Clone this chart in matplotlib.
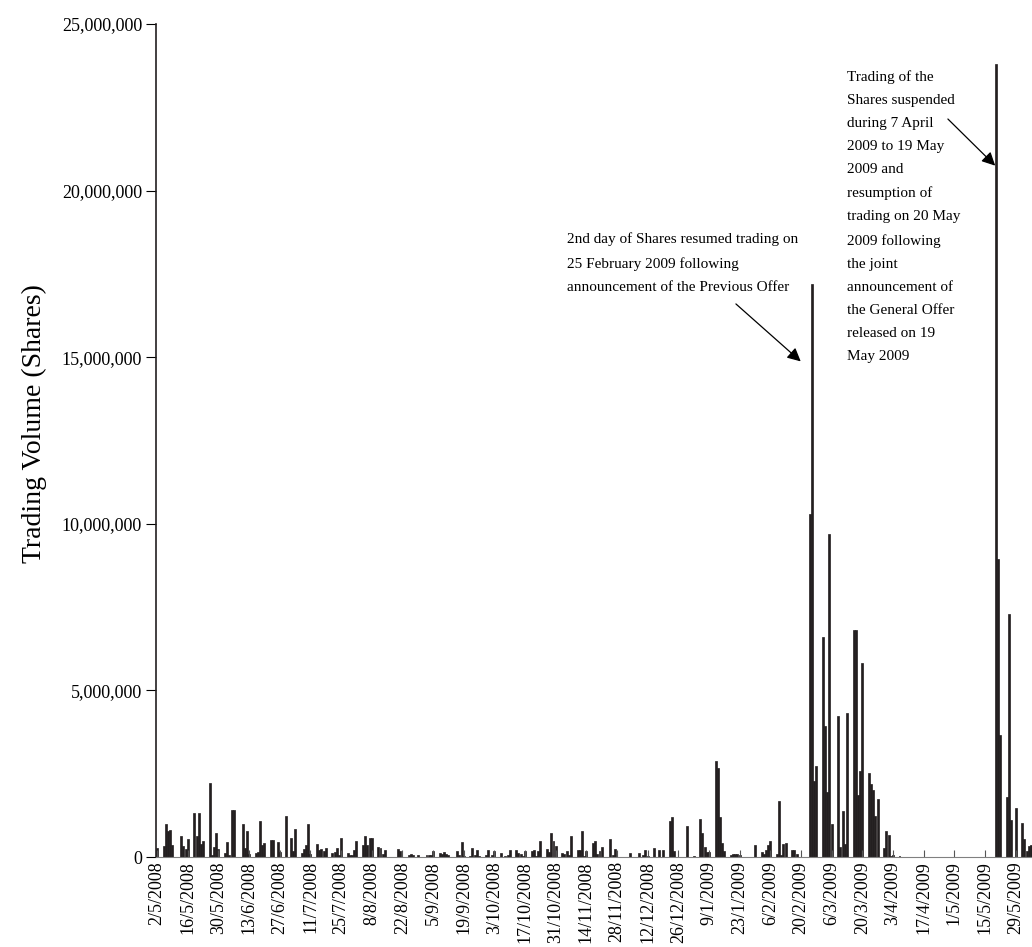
import matplotlib
import numpy as np
import pandas as pd

matplotlib.use("Agg")
import matplotlib.pyplot as plt
from matplotlib.ticker import FuncFormatter


OUTPUT_PATH = "out.png"
FONT = "Liberation Serif"
BAR_COLOR = "#231f20"

# Daily trading volume in millions of shares, Mon-Fri rows (0 = holiday / no trading / suspended)
first_day = [0.28]  # Fri 2/5/2008

vol_may_jul_2008 = [
    [0.32, 0.98, 0.77, 0.81, 0.35],
    [0.00, 0.63, 0.33, 0.25, 0.53],
    [1.32, 0.62, 1.32, 0.40, 0.48],
    [2.23, 0.07, 0.29, 0.72, 0.24],
    [0.13, 0.44, 0.07, 1.40, 1.40],
    [0.00, 0.99, 0.28, 0.77, 0.10],
    [0.13, 0.15, 1.09, 0.35, 0.43],
    [0.52, 0.52, 0.00, 0.45, 0.15],
    [1.23, 0.00, 0.57, 0.19, 0.84],
    [0.13, 0.23, 0.35, 0.98, 0.10],
    [0.39, 0.20, 0.24, 0.19, 0.26],
    [0.12, 0.15, 0.27, 0.05, 0.58],
    [0.13, 0.05, 0.06, 0.20, 0.49],
]

vol_aug_oct_2008 = [
    [0.37, 0.62, 0.35, 0.58, 0.57],
    [0.30, 0.26, 0.08, 0.20, 0.00],
    [0.00, 0.00, 0.23, 0.17, 0.00],
    [0.07, 0.08, 0.07, 0.00, 0.05],
    [0.00, 0.05, 0.06, 0.06, 0.17],
    [0.12, 0.10, 0.15, 0.10, 0.07],
    [0.00, 0.17, 0.05, 0.44, 0.03],
    [0.03, 0.27, 0.07, 0.21, 0.03],
    [0.05, 0.21, 0.00, 0.07, 0.17],
    [0.12, 0.00, 0.03, 0.05, 0.20],
    [0.21, 0.12, 0.08, 0.03, 0.17],
    [0.19, 0.21, 0.03, 0.19, 0.47],
    [0.25, 0.15, 0.71, 0.48, 0.33],
]

vol_nov_2008_jan_2009 = [
    [0.12, 0.10, 0.18, 0.05, 0.62],
    [0.22, 0.22, 0.79, 0.03, 0.17],
    [0.42, 0.48, 0.10, 0.17, 0.30],
    [0.00, 0.55, 0.05, 0.23, 0.00],
    [0.00, 0.00, 0.00, 0.13, 0.00],
    [0.12, 0.00, 0.05, 0.21, 0.03],
    [0.26, 0.00, 0.20, 0.00, 0.20],
    [1.07, 1.19, 0.17, 0.00, 0.00],
    [0.00, 0.92, 0.00, 0.00, 0.03],
    [1.14, 0.72, 0.30, 0.15, 0.15],
    [2.87, 2.68, 1.20, 0.42, 0.18],
    [0.05, 0.08, 0.10, 0.10, 0.05],
    [0.00, 0.00, 0.00, 0.00, 0.35],
]

vol_feb_apr_2009 = [
    [0.15, 0.10, 0.20, 0.35, 0.49],
    [0.10, 1.68, 0.05, 0.40, 0.42],
    [0.20, 0.20, 0.10, 0.00, 0.00],
    [0.00, 10.30, 17.20, 2.27, 2.73],
    [6.60, 3.92, 1.95, 9.69, 1.00],
    [4.22, 0.30, 1.37, 0.40, 4.32],
    [6.80, 6.80, 1.85, 2.57, 5.82],
    [2.52, 2.20, 2.02, 1.22, 1.75],
    [0.28, 0.78, 0.65, 0.03, 0.07],
    [0.03, 0.00, 0.00, 0.00, 0.00],
    [0.00, 0.00, 0.00, 0.00, 0.00],
    [0.00, 0.00, 0.00, 0.00, 0.00],
    [0.00, 0.00, 0.00, 0.00, 0.00],
]

vol_may_jun_2009 = [
    [0.00, 0.00, 0.00, 0.00, 0.00],
    [0.00, 0.00, 0.00, 0.00, 0.00],
    [0.00, 0.00, 23.80, 8.95, 3.67],
    [1.80, 7.28, 1.12, 0.00, 1.47],
    [1.02, 0.55, 0.17, 0.33, 0.35],
]

tick_labels = [
    "2/5/2008", "16/5/2008", "30/5/2008", "13/6/2008", "27/6/2008", "11/7/2008",
    "25/7/2008", "8/8/2008", "22/8/2008", "5/9/2008", "19/9/2008", "3/10/2008",
    "17/10/2008", "31/10/2008", "14/11/2008", "28/11/2008", "12/12/2008",
    "26/12/2008", "9/1/2009", "23/1/2009", "6/2/2009", "20/2/2009", "6/3/2009",
    "20/3/2009", "3/4/2009", "17/4/2009", "1/5/2009", "15/5/2009", "29/5/2009",
]

note_resumed = (
    "2nd day of Shares resumed trading on\n"
    "25 February 2009 following\n"
    "announcement of the Previous Offer"
)
note_suspended = (
    "Trading of the\nShares suspended\nduring 7 April\n2009 to 19 May\n2009 and\n"
    "resumption of\ntrading on 20 May\n2009 following\nthe joint\n"
    "announcement of\nthe General Offer\nreleased on 19\nMay 2009"
)


def main():
    weeks = vol_may_jul_2008 + vol_aug_oct_2008 + vol_nov_2008_jan_2009 + vol_feb_apr_2009 + vol_may_jun_2009
    volume = np.array(first_day + [v for week in weeks for v in week]) * 1e6
    dates = pd.bdate_range("2008-05-02", periods=len(volume))
    tick_dates = pd.to_datetime(tick_labels, format="%d/%m/%Y")

    plt.rcParams["font.family"] = [FONT, "DejaVu Serif"]

    fig = plt.figure(figsize=(10.32, 9.47), dpi=100)
    ax = fig.add_axes([0.1512, 0.0950, 0.8488, 0.8796])

    ax.bar(dates, volume, width=0.9, color=BAR_COLOR, edgecolor=BAR_COLOR, linewidth=0.5)

    ax.set_xlim(pd.Timestamp("2008-05-01 12:00"), pd.Timestamp("2009-06-05 12:00"))
    ax.set_ylim(0, 25e6)
    ax.set_yticks(np.arange(0, 25e6 + 1, 5e6))
    ax.yaxis.set_major_formatter(FuncFormatter(lambda v, _: f"{v:,.0f}"))
    ax.set_xticks(tick_dates)
    ax.set_xticklabels(tick_labels, rotation=90)

    ax.tick_params(axis="y", direction="out", length=7, width=0.8, labelsize=13, pad=3)
    ax.tick_params(axis="x", direction="in", length=5, width=0.8, labelsize=13, pad=3, color="#555555")

    for side in ("top", "right"):
        ax.spines[side].set_visible(False)
    ax.spines["left"].set_linewidth(1.2)
    ax.spines["left"].set_color(BAR_COLOR)
    ax.spines["bottom"].set_linewidth(0.8)
    ax.spines["bottom"].set_color("#808080")

    ax.set_ylabel("Trading Volume (Shares)", fontsize=20)
    ax.yaxis.set_label_coords(-0.125, 0.52)

    ax.text(0.469, 0.750, note_resumed, transform=ax.transAxes, fontsize=11,
            va="top", ha="left", linespacing=2.0)
    ax.text(0.789, 0.945, note_suspended, transform=ax.transAxes, fontsize=11,
            va="top", ha="left", linespacing=2.0)

    arrow = dict(arrowstyle="-|>", color="black", lw=0.9, mutation_scale=20, shrinkA=0, shrinkB=0)
    ax.annotate("", xy=(0.736, 0.595), xytext=(0.662, 0.664), xycoords="axes fraction",
                textcoords="axes fraction", arrowprops=arrow)
    ax.annotate("", xy=(0.958, 0.830), xytext=(0.904, 0.886), xycoords="axes fraction",
                textcoords="axes fraction", arrowprops=arrow)

    fig.savefig(OUTPUT_PATH, dpi=100)
    plt.close(fig)


if __name__ == "__main__":
    main()
